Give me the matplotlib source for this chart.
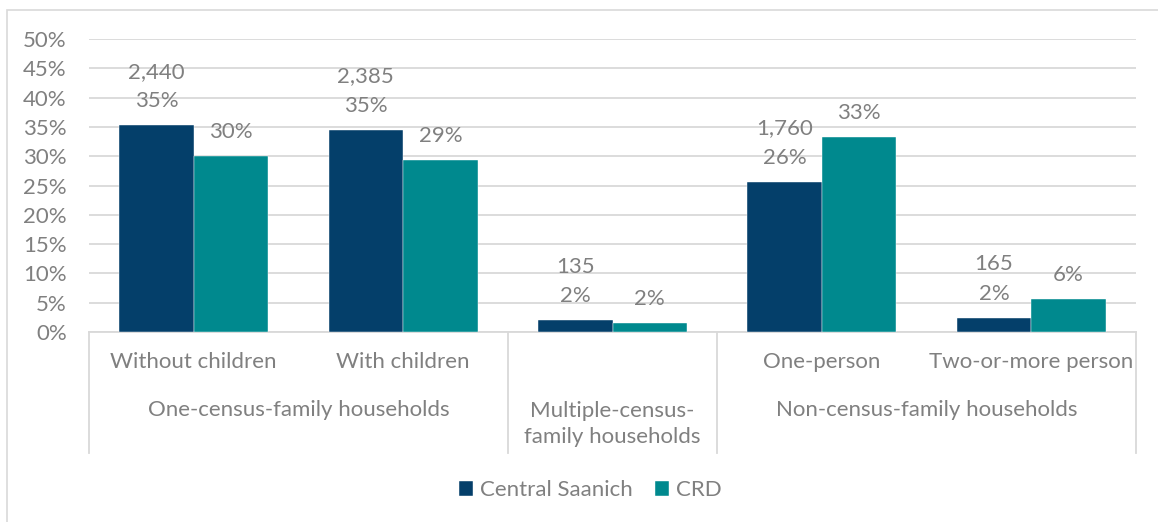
import matplotlib
matplotlib.use("Agg")
import matplotlib.pyplot as plt
from matplotlib.patches import Rectangle
from matplotlib.transforms import blended_transform_factory

# ---- data ----
sub_categories = ["Without children", "With children", "", "One-person", "Two-or-more person"]
group_labels = ["One-census-family households", "Multiple-census-\nfamily households", "Non-census-family households"]
group_spans = [(0, 1), (2, 2), (3, 4)]
series_names = ["Central Saanich", "CRD"]
central_saanich_pct = [0.353, 0.345, 0.020, 0.256, 0.024]
central_saanich_count = ["2,440", "2,385", "135", "1,760", "165"]
central_saanich_label_pct = ["35%", "35%", "2%", "26%", "2%"]
crd_pct = [0.300, 0.294, 0.016, 0.333, 0.057]
crd_label_pct = ["30%", "29%", "2%", "33%", "6%"]
yticks = [0, 0.05, 0.10, 0.15, 0.20, 0.25, 0.30, 0.35, 0.40, 0.45, 0.50]
ytick_labels = ["0%", "5%", "10%", "15%", "20%", "25%", "30%", "35%", "40%", "45%", "50%"]

NAVY = "#043F6A"
TEAL = "#00898E"
TXT = "#808080"
GRID = "#D9D9D9"
FONT = "Lato"
FS = 16

plt.rcParams["font.family"] = [FONT, "DejaVu Sans"]

W, H = 1158, 522
fig = plt.figure(figsize=(W / 100, H / 100), dpi=100)
fig.patch.set_facecolor("white")

# chart border (left/top visible)
fig.patches.append(Rectangle((7 / W, -0.1), 1.2, (H - 10) / H + 0.1, transform=fig.transFigure,
                             fill=False, edgecolor=GRID, linewidth=1.2))

x0, x1 = 89, 1136
y0, y1 = 332, 39
ax = fig.add_axes([x0 / W, (H - y0) / H, (x1 - x0) / W, (y0 - y1) / H])
ax.set_xlim(-0.5, 4.5)
ax.set_ylim(0, 0.5)

bw = 74.5 / ((x1 - x0) / 5)
xs = list(range(len(sub_categories)))
ax.bar([x - bw / 2 for x in xs], central_saanich_pct, width=bw, color=NAVY, label=series_names[0], zorder=3,
       edgecolor="white", linewidth=0.3)
ax.bar([x + bw / 2 for x in xs], crd_pct, width=bw, color=TEAL, label=series_names[1], zorder=3,
       edgecolor="white", linewidth=0.3)

for x, v, c, p in zip(xs, central_saanich_pct, central_saanich_count, central_saanich_label_pct):
    ax.annotate(f"{c}\n{p}", (x - bw / 2, v), xytext=(0, 10), textcoords="offset points",
                ha="center", va="bottom", fontsize=FS, color=TXT, linespacing=1.6)
for x, v, p in zip(xs, crd_pct, crd_label_pct):
    ax.annotate(p, (x + bw / 2, v), xytext=(0, 10), textcoords="offset points",
                ha="center", va="bottom", fontsize=FS, color=TXT)

ax.set_yticks(yticks)
ax.set_yticklabels(ytick_labels, fontsize=FS, color=TXT)
ax.tick_params(axis="y", length=0, pad=16)
ax.set_xticks([])
ax.grid(axis="y", color=GRID, linewidth=1.3, zorder=0)
for s in ["top", "right", "left"]:
    ax.spines[s].set_visible(False)
ax.spines["bottom"].set_color(GRID)
ax.spines["bottom"].set_linewidth(1.3)

# multi-level category axis
px_per_axes = (y0 - y1)
tr = blended_transform_factory(ax.transData, ax.transAxes)
def ay(ypix):
    return -(ypix - y0) / px_per_axes

for x, lab in zip(xs, sub_categories):
    if lab:
        ax.text(x, ay(362), lab, transform=tr, ha="center", va="center", fontsize=FS, color=TXT)
for (a, b), lab in zip(group_spans, group_labels):
    if "\n" in lab:
        ax.text((a + b) / 2, ay(424), lab, transform=tr, ha="center", va="center", fontsize=FS,
                color=TXT, linespacing=1.35)
    else:
        ax.text((a + b) / 2, ay(410), lab, transform=tr, ha="center", va="center", fontsize=FS, color=TXT)
for xb in [-0.5, 1.5, 2.5, 4.5]:
    ax.plot([xb, xb], [0, ay(453)], transform=tr, color=GRID, linewidth=1.3, clip_on=False)

leg = fig.legend(loc="center", bbox_to_anchor=(590 / W, (H - 490) / H), ncol=2, frameon=False,
                 fontsize=FS, handlelength=0.65, handleheight=0.65, handletextpad=0.3, columnspacing=1.0)
for t in leg.get_texts():
    t.set_color(TXT)

fig.savefig("out.png", dpi=100, facecolor="white")
